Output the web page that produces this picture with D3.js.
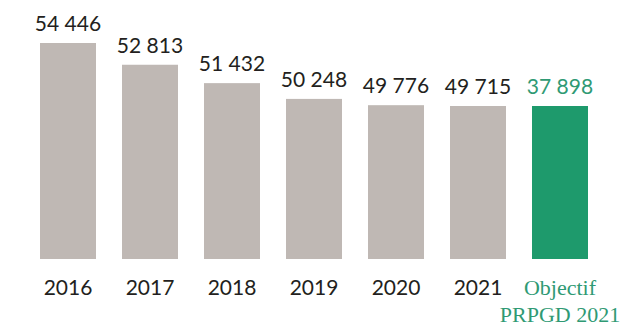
<!DOCTYPE html>
<html>
<head>
<meta charset="utf-8">
<script src="https://cdn.jsdelivr.net/npm/d3@7"></script>
<style>
  html, body { margin: 0; padding: 0; background: #fff; }
  svg { display: block; }
  text { font-family: Lato, "Open Sans", sans-serif; }
</style>
</head>
<body>
<svg id="chart" width="634" height="330"></svg>
<script>
// ---- data ----
const categories = ["2016", "2017", "2018", "2019", "2020", "2021", "Objectif\nPRPGD 2021"];
const values = [54446, 52813, 51432, 50248, 49776, 49715, 37898];
const isTarget = [false, false, false, false, false, false, true];

// ---- layout ----
const baseY = 259;
const grey = "#bfb8b4", green = "#1e9a6c", greenText = "#2f9a74", ink = "#231f20";

const svg = d3.select("#chart");
const locale = d3.formatLocale({ decimal: ",", thousands: " ", grouping: [3], currency: ["", " €"] });
const fmt = locale.format(",d");

const x = d3.scaleBand()
  .domain(categories)
  .range([40, 588])
  .paddingInner(0.317)
  .paddingOuter(0);

const histValues = values.filter((v, i) => !isTarget[i]);
const y = d3.scaleLinear()
  .domain([d3.min(histValues), d3.max(histValues)])
  .range([106, 43])
  .clamp(true);

const g = svg.append("g");

g.selectAll("rect.bar")
  .data(values)
  .join("rect")
  .attr("class", "bar")
  .attr("x", (d, i) => x(categories[i]))
  .attr("width", x.bandwidth())
  .attr("y", d => y(d))
  .attr("height", d => baseY - y(d))
  .attr("fill", (d, i) => isTarget[i] ? green : grey);

g.selectAll("text.val")
  .data(values)
  .join("text")
  .attr("class", "val")
  .attr("x", (d, i) => x(categories[i]) + x.bandwidth() / 2)
  .attr("y", d => y(d) - 12)
  .attr("text-anchor", "middle")
  .attr("font-size", 21)
  .attr("fill", (d, i) => isTarget[i] ? greenText : ink)
  .text(d => fmt(d));

const labels = g.selectAll("text.cat")
  .data(categories)
  .join("text")
  .attr("class", "cat")
  .attr("x", d => x(d) + x.bandwidth() / 2)
  .attr("y", 295)
  .attr("text-anchor", "middle")
  .attr("font-size", (d, i) => isTarget[i] ? 22 : 21)
  .style("font-family", (d, i) => isTarget[i] ? '"Liberation Serif", serif' : null)
  .attr("fill", (d, i) => isTarget[i] ? greenText : ink);

labels.selectAll("tspan")
  .data(d => d.split("\n").map(t => ({ t, cx: x(d) + x.bandwidth() / 2 })))
  .join("tspan")
  .attr("x", d => d.cx)
  .attr("dy", (d, i) => i === 0 ? 0 : 27)
  .text(d => d.t);
</script>
</body>
</html>
